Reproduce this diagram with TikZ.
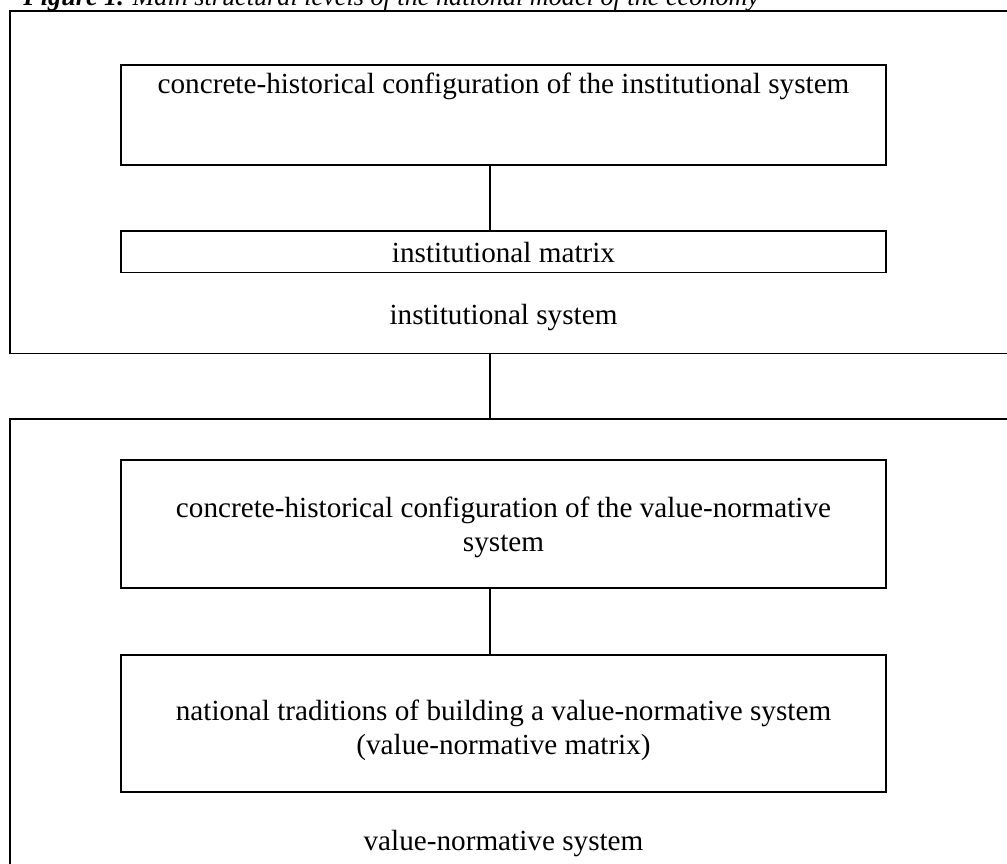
\documentclass[tikz,border=0pt]{standalone}
\usepackage{fontspec}
\setmainfont{Liberation Serif}
\begin{document}
\begin{tikzpicture}[x=0.5pt,y=-0.5pt,
  frame/.style={draw,line width=0.85pt,inner sep=0pt,outer sep=0pt,minimum width=#1},
  lbl/.style={anchor=base,inner sep=0pt,align=center,font=\fontsize{14.6pt}{17pt}\selectfont},
  link/.style={line width=0.85pt}]
\useasboundingbox (0,0) rectangle (1007,863);
\clip (0,0) rectangle (1007,863);
% title
\node[anchor=base west,inner sep=0pt,font=\fontsize{13.1pt}{15pt}\selectfont] (title) at (23,5)
  {\textbf{\textit{Figure 1.}} \textit{Main structural levels of the national model of the economy}};
% outer boxes
\node[frame=545pt,minimum height=171.25pt] (outerA) at (555,182.25) {};
\node[frame=545pt,minimum height=290.5pt] (outerB) at (555,709.5) {};
% inner boxes
\node[frame=382.5pt,minimum height=50pt] (b1) at (503.5,115) {};
\node[frame=382.5pt,minimum height=20.75pt] (b2) at (503.5,251.75) {};
\node[frame=382.5pt,minimum height=64pt] (b3) at (503.5,524) {};
\node[frame=382.5pt,minimum height=68.5pt] (b4) at (503.5,723.5) {};
% texts
\node[lbl] (t1) at (503.5,93) {concrete-historical configuration of the institutional system};
\node[lbl] (t2) at (503.5,262) {institutional matrix};
\node[lbl] (t3) at (503.5,324) {institutional system};
\node[lbl] (t4) at (503.5,551) {concrete-historical configuration of the value-normative\\system};
\node[lbl] (t5) at (503.5,754) {national traditions of building a value-normative system\\(value-normative matrix)};
\node[lbl] (t6) at (503.5,850) {value-normative system};
% connectors
\draw[link] ([xshift=-6.75pt]b1.south) -- ([xshift=-6.75pt]b2.north);
\draw[link] ([xshift=-32.5pt]outerA.south) -- ([xshift=-32.5pt]outerB.north);
\draw[link] ([xshift=-6.75pt]b3.south) -- ([xshift=-6.75pt]b4.north);
\end{tikzpicture}
\end{document}
